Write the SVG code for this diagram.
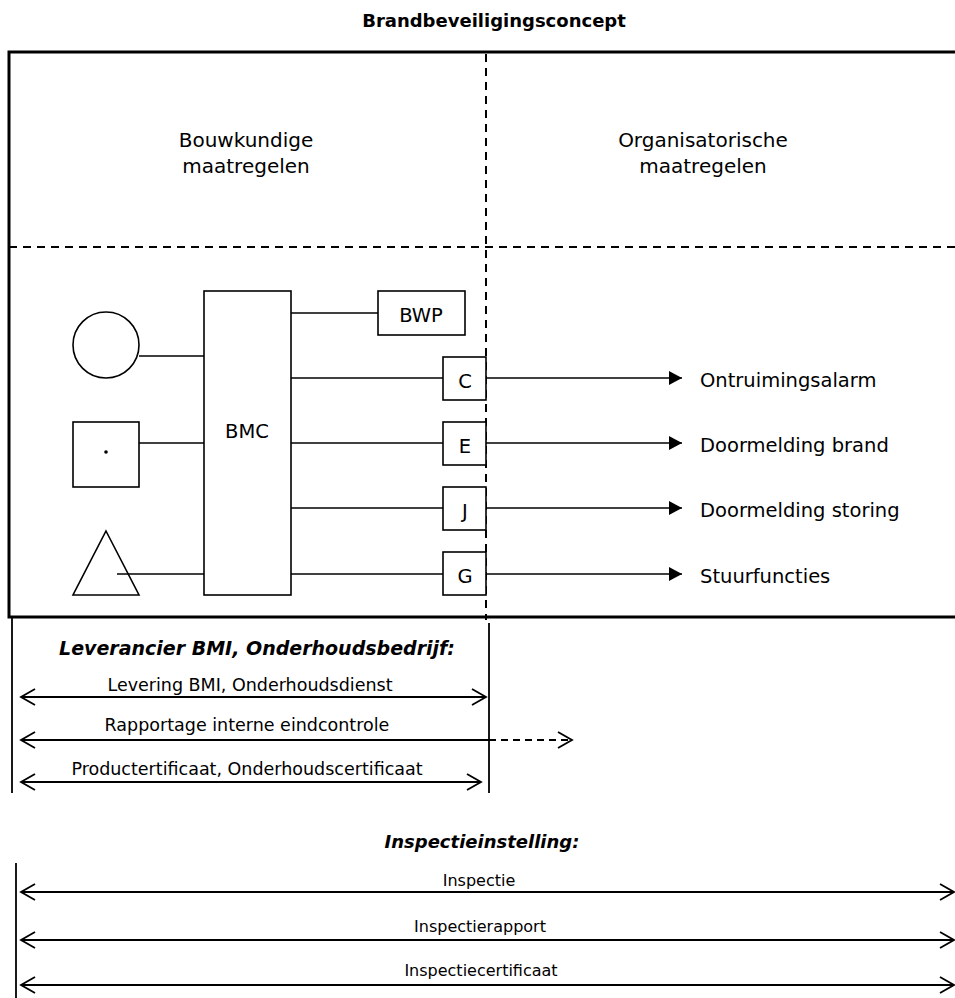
<svg xmlns="http://www.w3.org/2000/svg" width="955" height="998" viewBox="0 0 955 998">
<defs>
<style>
text{font-family:"DejaVu Sans","Liberation Sans",sans-serif;fill:#000}
.t{font-size:20px;text-anchor:middle}
.n{font-size:19.5px;text-anchor:middle}
.lab{font-size:19.5px}
.sm{font-size:17.5px;text-anchor:middle}
.xs{font-size:16px;text-anchor:middle}
.hd{font-size:19px;font-weight:bold;font-style:italic;text-anchor:middle}
.box{fill:#fff;stroke:#000;stroke-width:1.6}
.ln{stroke:#000;stroke-width:1.6;fill:none}
.dash{stroke:#000;stroke-width:2;stroke-dasharray:8 6;fill:none}
.dl{stroke:#000;stroke-width:1.8;fill:none}
</style>
<marker id="fa" markerUnits="userSpaceOnUse" markerWidth="16" markerHeight="16" refX="13" refY="7" orient="auto">
<path d="M0,0 L13,7 L0,14 Z" fill="#000"/>
</marker>
<marker id="oa" markerUnits="userSpaceOnUse" markerWidth="18" markerHeight="20" refX="15" refY="9" orient="auto-start-reverse">
<path d="M1,1 L15,9 L1,17" fill="none" stroke="#000" stroke-width="1.8"/>
</marker>
</defs>
<rect width="955" height="998" fill="#fff"/>

<g id="title">
<text x="494" y="27" style="font-size:18px;font-weight:bold;text-anchor:middle">Brandbeveiligingsconcept</text>
</g>

<g id="frame">
<path d="M955,52 H9 V617 H955" fill="none" stroke="#000" stroke-width="3"/>
<line class="dash" x1="9" y1="247" x2="955" y2="247"/>
<line class="dash" x1="486" y1="54" x2="486" y2="620"/>
</g>

<g id="col-bouwkundig">
<text class="t" x="246" y="147">Bouwkundige</text>
<text class="t" x="246" y="173">maatregelen</text>
</g>
<g id="col-organisatorisch">
<text class="t" x="703" y="147">Organisatorische</text>
<text class="t" x="703" y="173">maatregelen</text>
</g>

<g id="connectors">
<line class="ln" x1="139" y1="356" x2="204" y2="356"/>
<line class="ln" x1="139" y1="443" x2="204" y2="443"/>
<line class="ln" x1="117" y1="574" x2="204" y2="574"/>
<line class="ln" x1="291" y1="313" x2="378" y2="313"/>
<line class="ln" x1="291" y1="378" x2="443" y2="378"/>
<line class="ln" x1="291" y1="443" x2="443" y2="443"/>
<line class="ln" x1="291" y1="508" x2="443" y2="508"/>
<line class="ln" x1="291" y1="574" x2="443" y2="574"/>
<line class="ln" x1="486" y1="378" x2="682" y2="378" marker-end="url(#fa)"/>
<line class="ln" x1="486" y1="443" x2="682" y2="443" marker-end="url(#fa)"/>
<line class="ln" x1="486" y1="508" x2="682" y2="508" marker-end="url(#fa)"/>
<line class="ln" x1="486" y1="574" x2="682" y2="574" marker-end="url(#fa)"/>
</g>

<g id="melder-circle"><circle class="box" cx="106" cy="345" r="33"/></g>
<g id="melder-square"><rect class="box" x="73" y="422" width="66" height="65"/><circle cx="106" cy="452" r="1.8" fill="#000"/></g>
<g id="melder-triangle"><path class="box" d="M106,531 L139,595 L73,595 Z" style="fill:none"/></g>

<g id="bmc"><rect class="box" x="204" y="291" width="87" height="304"/><text class="n" x="247" y="438">BMC</text></g>
<g id="bwp"><rect class="box" x="378" y="291" width="87" height="44"/><text class="n" x="421" y="322">BWP</text></g>
<g id="c"><rect class="box" x="443" y="357" width="43" height="43"/><text class="n" x="465" y="388">C</text></g>
<g id="e"><rect class="box" x="443" y="422" width="43" height="43"/><text class="n" x="465" y="453">E</text></g>
<g id="j"><rect class="box" x="443" y="487" width="43" height="43"/><text class="n" x="465" y="518">J</text></g>
<g id="g"><rect class="box" x="443" y="552" width="43" height="43"/><text class="n" x="465" y="583">G</text></g>

<g id="out-labels">
<text class="lab" x="700" y="387">Ontruimingsalarm</text>
<text class="lab" x="700" y="452">Doormelding brand</text>
<text class="lab" x="700" y="517">Doormelding storing</text>
<text class="lab" x="700" y="583">Stuurfuncties</text>
</g>

<g id="leverancier">
<line class="dl" x1="12" y1="618" x2="12" y2="793"/>
<line class="dl" x1="489" y1="623" x2="489" y2="793"/>
<text class="hd" x="257" y="655">Leverancier BMI, Onderhoudsbedrijf:</text>
<text class="sm" x="250" y="691">Levering BMI, Onderhoudsdienst</text>
<text class="sm" x="247" y="731">Rapportage interne eindcontrole</text>
<text class="sm" x="247" y="775">Productertificaat, Onderhoudscertificaat</text>
</g>
<g id="leverancier-arrows">
<line class="dl" x1="21" y1="697" x2="486" y2="697" marker-start="url(#oa)" marker-end="url(#oa)"/>
<line class="dl" x1="21" y1="740" x2="489" y2="740" marker-start="url(#oa)"/>
<line class="dl" x1="489" y1="740" x2="572" y2="740" stroke-dasharray="7 5" marker-end="url(#oa)"/>
<line class="dl" x1="21" y1="782" x2="481" y2="782" marker-start="url(#oa)" marker-end="url(#oa)"/>
</g>

<g id="inspectie">
<line class="dl" x1="16" y1="863" x2="16" y2="998"/>
<text class="hd" x="482" y="848" style="font-size:18px">Inspectieinstelling:</text>
<text class="xs" x="479" y="886">Inspectie</text>
<text class="xs" x="480" y="932">Inspectierapport</text>
<text class="xs" x="481" y="976">Inspectiecertificaat</text>
</g>
<g id="inspectie-arrows">
<line class="dl" x1="21" y1="892" x2="954" y2="892" marker-start="url(#oa)" marker-end="url(#oa)"/>
<line class="dl" x1="21" y1="940" x2="954" y2="940" marker-start="url(#oa)" marker-end="url(#oa)"/>
<line class="dl" x1="21" y1="985" x2="954" y2="985" marker-start="url(#oa)" marker-end="url(#oa)"/>
</g>
</svg>
